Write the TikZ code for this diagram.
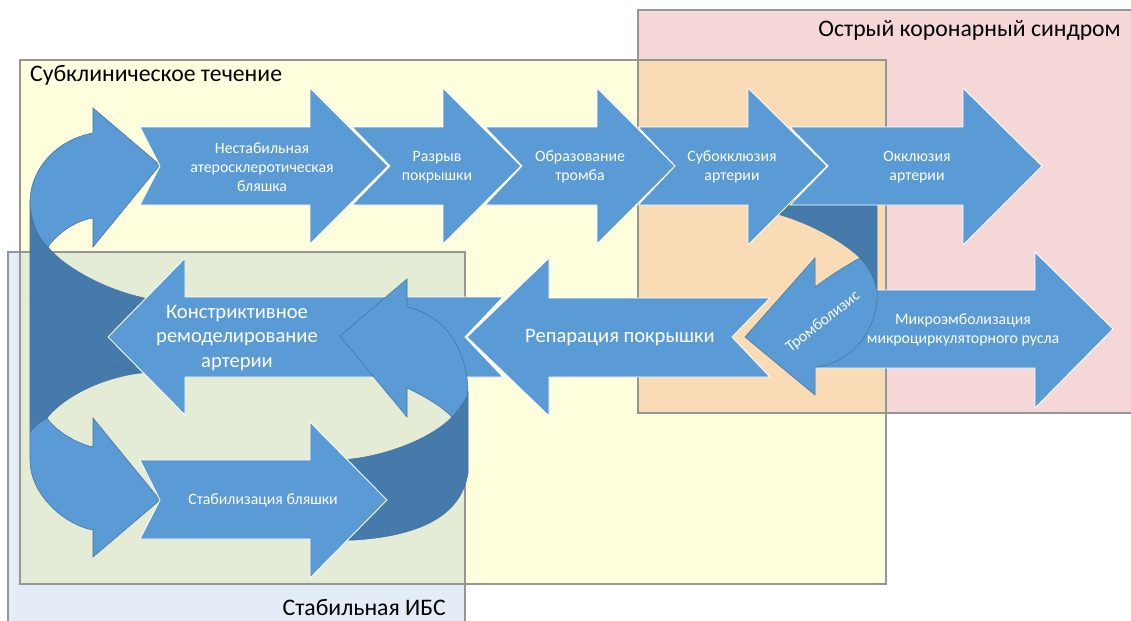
\documentclass[tikz,border=0pt]{standalone}
\usepackage{fontspec}
\setmainfont{Carlito}
\usepackage{tikz}
\definecolor{arrowblue}{RGB}{91,155,213}
\definecolor{backblue}{RGB}{70,122,170}
\definecolor{edgeblue}{RGB}{65,113,160}
\definecolor{acspink}{RGB}{245,215,216}
\definecolor{subyellow}{RGB}{255,255,221}
\definecolor{ibsblue}{RGB}{228,236,247}
\definecolor{mixorange}{RGB}{249,220,181}
\definecolor{mixgreen}{RGB}{229,236,214}
\definecolor{framegray}{RGB}{150,150,150}

\begin{document}
\begin{tikzpicture}[x=0.02cm,y=-0.02cm,
	blockarrow/.style = {fill=arrowblue,draw=white,line width=0.5pt},
	frontface/.style = {fill=arrowblue,draw=edgeblue,line width=0.3pt},
	backface/.style = {fill=backblue,draw=edgeblue,line width=0.3pt},
	frame/.style = {draw=framegray,line width=0.6pt},
	small/.style = {text=white,align=center,font=\fontsize{9}{11}\selectfont},
	big/.style = {text=white,align=center,font=\fontsize{11.7}{14.2}\selectfont},
	zone/.style = {font=\fontsize{13.5}{16}\selectfont}
	]
	\useasboundingbox (0,0) rectangle (1131,620);
	%ZONE
	\fill[acspink] (638,10) rectangle (1140,413);
	\fill[subyellow] (20,60) rectangle (886,584);
	\fill[ibsblue] (8,252) rectangle (465,630);
	\fill[mixorange] (638,60) rectangle (886,413);
	\fill[mixgreen] (20,252) rectangle (465,584);
	\draw[frame] (638,10) rectangle (1140,413);
	\draw[frame] (20,60) rectangle (886,584);
	\draw[frame] (8,252) rectangle (465,630);
	\node[zone,anchor=east] (@acs) at (1127,30) {Острый коронарный синдром};
	\node[zone,anchor=west] (@sub) at (24,75) {Субклиническое течение};
	\node[zone,anchor=east] (@ibs) at (452,607) {Стабильная ИБС};
	%SPIRALE sinistra
	\path[backface] (48,247) .. controls (62,265) and (105,292) .. (155,300) -- (155,372) .. controls (110,373) and (65,395) .. (47,418) .. controls (40,422) and (34,427) .. (30,432) -- (30,200) .. controls (30,220) and (38,238) .. (48,247) -- cycle;
	\draw[edgeblue,line width=0.3pt] (30,297) .. controls (50,340) and (100,370) .. (150,373);
	\path[frontface] (93,108) -- (160,165) -- (93,247) -- (93,218) .. controls (78,220) and (58,232) .. (48,247) .. controls (38,238) and (30,220) .. (30,200) .. controls (31,170) and (55,140) .. (93,133) -- cycle;
	\path[frontface] (93,418) -- (160,500) -- (93,557) -- (93,530) .. controls (65,525) and (30,495) .. (30,460) -- (30,432) .. controls (34,427) and (40,422) .. (47,418) .. controls (55,430) and (75,443) .. (93,447) -- cycle;
	\path[blockarrow] (503,297) -- (185,297) -- (185,258) -- (108,337) -- (185,415) -- (185,377) -- (503,377) -- (465,337) -- cycle;
	%SPIRALE destra
	\path[backface] (340,460) .. controls (380,458) and (430,440) .. (452,417) .. controls (460,408) and (466,400) .. (468,393) -- (468,473) .. controls (462,510) and (430,535) .. (355,540) -- (340,540) -- cycle;
	\path[blockarrow] (140,460) -- (310,460) -- (310,422) -- (387,500) -- (310,578) -- (310,539) -- (140,539) -- (160,500) -- cycle;
	\path[frontface] (407,279) -- (340,336) -- (407,417) -- (407,388) .. controls (422,395) and (440,405) .. (452,417) .. controls (460,408) and (466,400) .. (468,393) .. controls (468,350) and (445,315) .. (407,307) -- cycle;
	\path[blockarrow] (770,298) -- (549,298) -- (549,258) -- (467,337) -- (549,416) -- (549,377) -- (770,377) -- (732,337) -- cycle;
	%FRECCE in alto
	\path[blockarrow] (140,127) -- (310,127) -- (310,88) -- (388,166) -- (310,244) -- (310,205) -- (140,205) -- (160,166) -- cycle;
	\path[blockarrow] (352,127) -- (443,127) -- (443,88) -- (521,166) -- (443,244) -- (443,205) -- (352,205) -- (390,166) -- cycle;
	\path[blockarrow] (485,127) -- (597,127) -- (597,88) -- (675,166) -- (597,244) -- (597,205) -- (485,205) -- (522,166) -- cycle;
	\path[backface] (770,200) -- (877,200) -- (877,290) .. controls (873,276) and (868,266) .. (860,258) .. controls (845,243) and (810,222) .. (770,212) -- cycle;
	\path[blockarrow] (790,127) -- (963,127) -- (963,88) -- (1042,166) -- (963,245) -- (963,205) -- (790,205) -- (828,166) -- cycle;
	\path[blockarrow] (638,127) -- (748,127) -- (748,88) -- (827,166) -- (748,245) -- (748,205) -- (638,205) -- (675,166) -- cycle;
	%Trombolisi
	\path[blockarrow] (815,290) -- (1035,290) -- (1035,252) -- (1113,329) -- (1035,408) -- (1035,368) -- (815,368) -- cycle;
	\path[frontface] (745,337) -- (815,258) -- (815,287) .. controls (830,276) and (845,266) .. (860,258) .. controls (868,266) and (874,277) .. (877,290) .. controls (879,320) and (860,362) .. (815,367) -- (815,395) -- cycle;
	%TESTI
	\node[small] (@1) at (262,167) {Нестабильная\\атеросклеротическая\\бляшка};
	\node[small] (@2) at (437,167) {Разрыв\\покрышки};
	\node[small] (@3) at (580,167) {Образование\\тромба};
	\node[small] (@4) at (732,167) {Субокклюзия\\артерии};
	\node[small] (@5) at (917,167) {Окклюзия\\артерии};
	\node[small] (@6) at (963,330) {Микроэмболизация\\микроциркуляторного русла};
	\node[small,rotate=38] (@7) at (823,322) {Тромболизис};
	\node[big] (@8) at (620,338) {Репарация покрышки};
	\node[big] (@9) at (237,338) {Констриктивное\\ремоделирование\\артерии};
	\node[small] (@10) at (263,500) {Стабилизация бляшки};
\end{tikzpicture}
\end{document}
